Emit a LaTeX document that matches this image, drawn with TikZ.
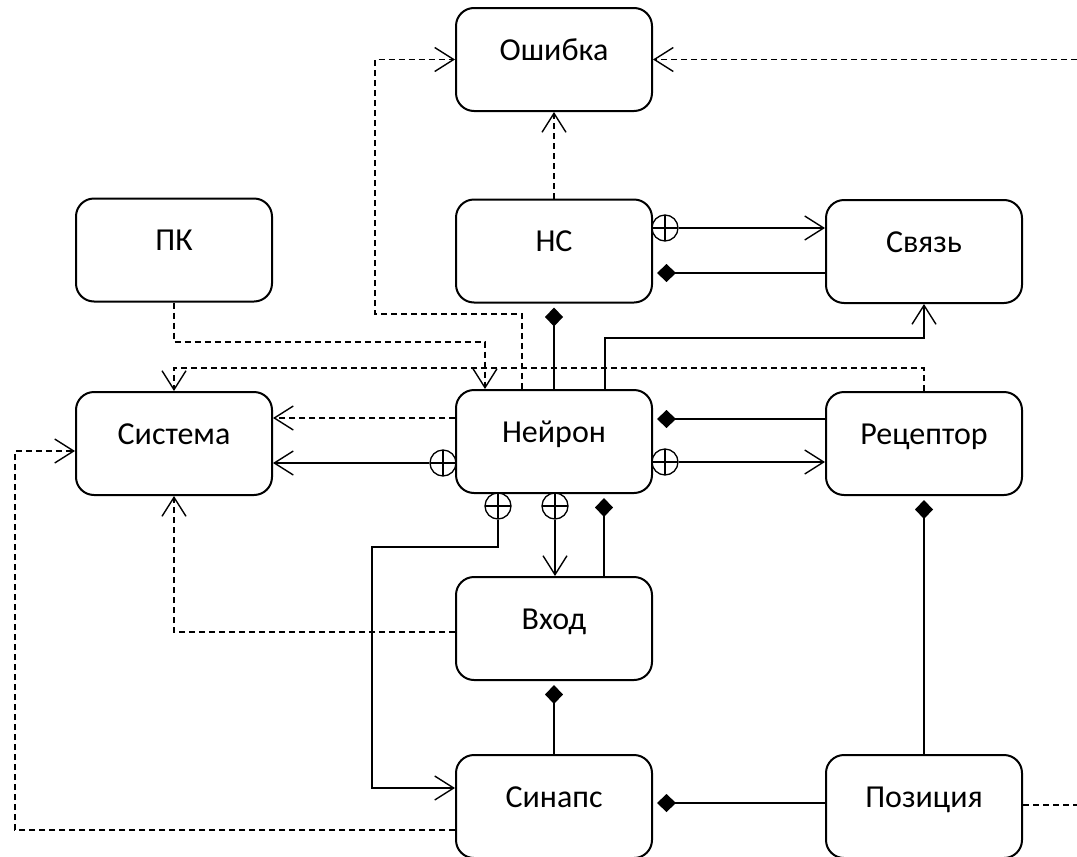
\documentclass[tikz,border=0pt]{standalone}
\usepackage{fontspec}
\setmainfont{Carlito}
\usetikzlibrary{arrows.meta,calc}
\begin{document}
\begin{tikzpicture}[x=1pt,y=-1pt,
  box/.style={draw, rounded corners=18pt, line width=2pt, minimum width=196pt, minimum height=103pt, inner sep=0pt},
  lbl/.style={font=\fontsize{32}{36}\selectfont, anchor=base, inner sep=0pt},
  con/.style={line width=1.4pt},
  dsh/.style={line width=1.4pt, dash pattern=on 6pt off 4pt},
  arr/.style={-{Straight Barb[length=19pt,width=24pt,line width=1.4pt]}},
  dia/.style={{Diamond[length=19pt,width=18pt]}-, shorten <=4pt},
  oplus/.style={circle, draw, fill=white, line width=1.3pt, minimum size=26pt, inner sep=0pt,
    path picture={\draw[line width=1.3pt] (path picture bounding box.north) -- (path picture bounding box.south)
      (path picture bounding box.west) -- (path picture bounding box.east);}}
]
\useasboundingbox (0,0) rectangle (1077,857);

% boxes
\node[box] (err) at (554,59.5) {};
\node[lbl] (errt) at ([yshift=-53pt]err.north) {Ошибка};
\node[box] (ns) at (554,251) {};
\node[lbl] (nst) at ([yshift=-53pt]ns.north) {НС};
\node[box] (sv) at (924,251.5) {};
\node[lbl] (svt) at ([yshift=-53pt]sv.north) {Связь};
\node[box] (pk) at (174,250) {};
\node[lbl] (pkt) at ([yshift=-53pt]pk.north) {ПК};
\node[box] (sys) at (174,443.5) {};
\node[lbl] (syst) at ([yshift=-53pt]sys.north) {Система};
\node[box] (neu) at (554,441.5) {};
\node[lbl] (neut) at ([yshift=-53pt]neu.north) {Нейрон};
\node[box] (rec) at (924,443.5) {};
\node[lbl] (rect) at ([yshift=-53pt]rec.north) {Рецептор};
\node[box] (vh) at (554,628.5) {};
\node[lbl] (vht) at ([yshift=-53pt]vh.north) {Вход};
\node[box] (syn) at (554,806.5) {};
\node[lbl] (synt) at ([yshift=-53pt]syn.north) {Синапс};
\node[box] (pos) at (924,806.5) {};
\node[lbl] (post) at ([yshift=-53pt]pos.north) {Позиция};

% oplus markers
\node[oplus] (o1) at (443,463) {};
\node[oplus] (o2) at (665,228) {};
\node[oplus] (o3) at (665,462) {};
\node[oplus] (o4) at (555,506) {};
\node[oplus] (o5) at (498,506) {};

% helper coordinates
\coordinate (p2) at (375,314);
\coordinate (rE) at (1077,59.5);
\coordinate (p4) at (485,342);
\coordinate (p5) at (174,368);
\coordinate (p11) at (924,338);
\coordinate (p17) at (372,547);
\coordinate (p18) at (174,632);
\coordinate (p21) at (15,830);
\coordinate (rB) at (1077,805);

% dashed dependencies
\draw[dsh,arr] (ns.north) -- (err.south);
\draw[dsh,arr] ([xshift=-32pt]neu.north) |- (p2) |- (err.west);
\draw[dsh,arr] (rE) -- (err.east);
\draw[dsh,arr] (pk.south) |- (p4) -- (p4 |- neu.north);
\draw[dsh,arr] (rec.north) |- (p5) -- (sys.north);
\draw[dsh,arr] (neu.west |- 0,418) -- (sys.east |- 0,418);
\draw[dsh,arr] (vh.west |- p18) -- (p18) -- (sys.south);
\draw[dsh,arr] (syn.west |- p21) -- (p21) |- (sys.west |- 0,451);
\draw[dsh] (pos.east |- rB) -- (rB);

% solid associations
\draw[con,arr] (o1.west) -- (sys.east |- o1.west);
\draw[con,arr] (o2.east) -- (sv.west |- o2.east);
\draw[con,dia] (ns.east |- 0,273) -- (sv.west |- 0,273);
\draw[con,dia] (ns.south) -- (neu.north);
\draw[con,arr] ([xshift=51pt]neu.north) |- (p11) -- (sv.south);
\draw[con,dia] (neu.east |- 0,419) -- (rec.west |- 0,419);
\draw[con,arr] (o3.east) -- (rec.west |- o3.east);
\draw[con,dia] (rec.south) -- (pos.north);
\draw[con,arr] (o4.south) -- (o4.south |- vh.north);
\draw[con,dia] ([xshift=50pt]neu.south) -- ([xshift=50pt]neu.south |- vh.north);
\draw[con,arr] (o5.south) |- (p17) |- (syn.west |- 0,788);
\draw[con,dia] (vh.south) -- (syn.north);
\draw[con,dia] (syn.east |- 0,803) -- (pos.west |- 0,803);
\end{tikzpicture}
\end{document}
